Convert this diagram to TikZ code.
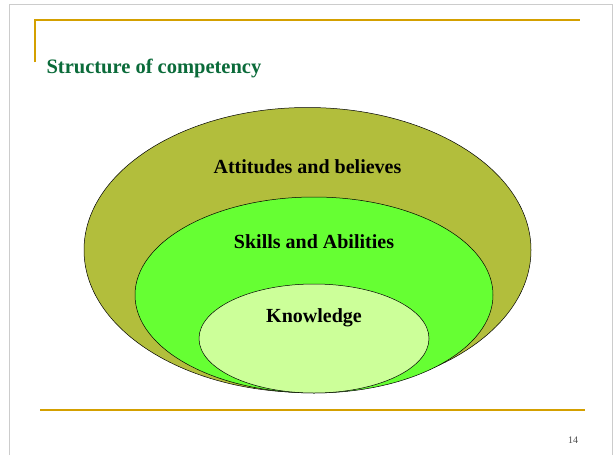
\documentclass[tikz,border=0pt]{standalone}
\usepackage{fontspec}
\setmainfont{Liberation Serif}
\usetikzlibrary{shapes.geometric}
\definecolor{goldline}{RGB}{212,160,0}
\definecolor{titlegreen}{RGB}{11,107,58}
\definecolor{olivefill}{RGB}{178,190,60}
\definecolor{midfill}{RGB}{102,255,51}
\definecolor{innerfill}{RGB}{204,255,153}
\definecolor{framegray}{RGB}{204,204,204}
\tikzset{
  ring/.style={ellipse, draw=black, line width=0.5pt, inner sep=0pt},
  lbl/.style={font=\fontsize{20}{24}\selectfont\bfseries, text=black},
  rule/.style={goldline, line width=2pt},
}
\begin{document}
\begin{tikzpicture}[x=1pt,y=-1pt]
\useasboundingbox (0,0) rectangle (615,455);
\fill[white] (0,0) rectangle (615,455);
% slide frame
\draw[framegray, line width=1pt] (9,455) -- (9,4) -- (612,4) -- (612,455);
% header rules
\draw[rule] (35,62) -- (35,20) -- (580,20);
\node[anchor=west, text=titlegreen, font=\fontsize{20.5}{24}\selectfont\bfseries] (title) at (43,68) {Structure of competency};
% ellipses
\node[ring, fill=olivefill, minimum width=447pt, minimum height=285pt] (outer) at (307.5,250) {};
\node[ring, fill=midfill, minimum width=358pt, minimum height=196pt] (middle) at (314,295) {};
\node[ring, fill=innerfill, minimum width=230pt, minimum height=109pt] (inner) at (314,338.5) {};
\node[lbl] (att) at (307.5,167) {Attitudes and believes};
\node[lbl] (sk) at (314,242) {Skills and Abilities};
\node[lbl] (kn) at (314,318) {Knowledge};
% footer
\draw[rule] (40,410) -- (585,410);
\node[font=\fontsize{10}{12}\selectfont, text=black!70] (pg) at (573,440) {14};
\end{tikzpicture}
\end{document}
